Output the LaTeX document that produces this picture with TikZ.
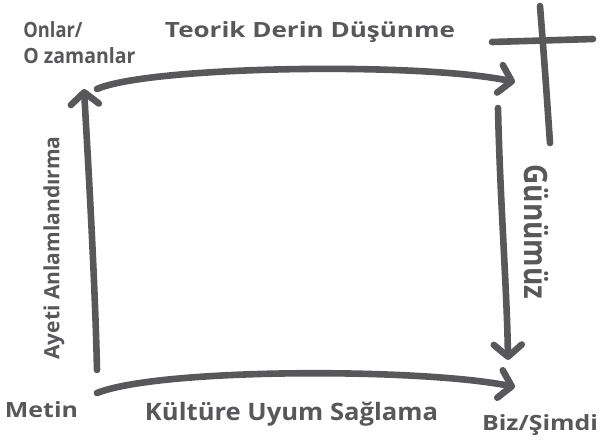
\documentclass[tikz,border=0pt]{standalone}
\usepackage{fontspec}
\usepackage{graphicx}
\setmainfont{Open Sans}
\usetikzlibrary{arrows.meta,positioning}
\definecolor{kursun}{RGB}{88,88,90}

\begin{document}
\begin{tikzpicture}[x=0.5pt,y=-0.5pt,
    kalem/.style={draw=kursun, line width=3.3pt, line cap=round},
    ok/.style={kalem, -{Straight Barb[length=6pt,width=14pt,round]}},
    yazi/.style={text=kursun, inner sep=0pt, font=\bfseries\fontsize{10.5}{11}\selectfont}]
    % Sayfa
    \useasboundingbox (0,0) rectangle (601,445);

    % Köşe noktaları
    \coordinate (solAlt) at (97,370);
    \coordinate (solUst) at (84,89);
    \coordinate (ustBas) at (97,89);
    \coordinate (ustSon) at (515,82);
    \coordinate (sagUst) at (498,108);
    \coordinate (sagAlt) at (508,360);
    \coordinate (altBas) at (97,393);
    \coordinate (altSon) at (515,387);

    % Oklar
    \draw[ok] (altBas) .. controls (160,368) and (420,368) .. (altSon);
    \draw[ok] (solAlt) .. controls (95,280) and (88,160) .. (solUst);
    \draw[ok] (ustBas) .. controls (150,66) and (420,62) .. (ustSon);
    \draw[ok] (sagUst) .. controls (500,200) and (507,290) .. (sagAlt);

    % Artı işareti
    \coordinate (artiUst) at (540,6);
    \coordinate (artiAlt) at (550,143);
    \coordinate (artiSol) at (492,42);
    \coordinate (artiSag) at (593,39);
    \draw[kalem] (artiUst) .. controls (545,70) .. (artiAlt);
    \draw[kalem] (artiSol) -- (artiSag);

    % Yazılar
    \node[yazi, anchor=base west] (onlar) at (23,37) {\resizebox{29.5pt}{\height}{Onlar/}};
    \node[yazi, anchor=base west] (ozaman) at (23,63) {\resizebox{56pt}{\height}{O zamanlar}};
    \node[yazi, anchor=base] (teorik) at (310,37) {\resizebox{145pt}{\height}{Teorik Derin Düşünme}};
    \node[yazi, anchor=base, font=\bfseries\fontsize{12}{13}\selectfont] (kultur) at (291.5,420) {\resizebox{146.5pt}{\height}{Kültüre Uyum Sağlama}};
    \node[yazi, anchor=base] (metin) at (41.5,417) {\resizebox{36.5pt}{\height}{Metin}};
    \node[yazi, anchor=base] (biz) at (540,430) {\resizebox{58pt}{\height}{Biz/Şimdi}};
    \node[yazi, rotate=90] (ayeti) at (54,248) {Ayeti Anlamlandırma};
    \node[yazi, rotate=-90, font=\bfseries\fontsize{14}{15}\selectfont] (gunumuz) at (536,232) {\resizebox{\width}{1.15\height}{Günümüz}};
\end{tikzpicture}
\end{document}
